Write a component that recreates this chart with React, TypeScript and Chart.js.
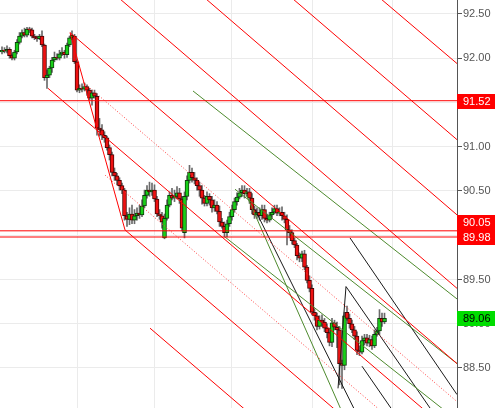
import React, { useEffect, useRef } from 'react';
import { Chart, registerables } from 'chart.js';

Chart.register(...registerables);

// Candles (index 0..153)
const OPEN = [
  92.07, 92.09, 92.08, 92.10, 92.03, 92.00, 92.07, 92.18, 92.25, 92.29,
  92.26, 92.33, 92.32, 92.25, 92.23, 92.22, 92.25, 92.15, 91.78, 91.81,
  91.89, 91.98, 92.01, 92.00, 92.05, 92.07, 92.04, 92.15, 92.23, 92.25,
  91.96, 91.64, 91.66, 91.65, 91.68, 91.64, 91.55, 91.61, 91.57, 91.21,
  91.19, 91.13, 91.10, 90.99, 90.91, 90.71, 90.67, 90.62, 90.56, 90.51,
  90.22, 90.18, 90.24, 90.17, 90.22, 90.25, 90.23, 90.33, 90.45, 90.51,
  90.49, 90.51, 90.41, 90.24, 90.22, 89.97, 90.19, 90.34, 90.45, 90.42,
  90.44, 90.48, 90.41, 90.03, 90.44, 90.62, 90.71, 90.65, 90.62, 90.56,
  90.51, 90.42, 90.36, 90.44, 90.40, 90.31, 90.34, 90.27, 90.15, 90.10,
  90.03, 90.13, 90.21, 90.29, 90.38, 90.43, 90.48, 90.51, 90.47, 90.49,
  90.42, 90.29, 90.23, 90.26, 90.22, 90.29, 90.19, 90.17, 90.23, 90.26,
  90.30, 90.25, 90.26, 90.22, 90.18, 90.06, 90.03, 89.94, 89.89, 89.77,
  89.74, 89.79, 89.64, 89.49, 89.40, 89.13, 89.09, 88.97, 89.04, 89.02,
  88.95, 88.90, 88.79, 89.01, 88.96, 88.93, 88.55, 88.53, 89.13, 89.06,
  89.00, 88.93, 88.86, 88.70, 88.68, 88.81, 88.84, 88.78, 88.82, 88.75,
  88.88, 88.92, 89.06, 89.02,
];
const HIGH = [
  92.13, 92.12, 92.14, 92.12, 92.05, 92.09, 92.21, 92.29, 92.32, 92.34,
  92.35, 92.35, 92.34, 92.27, 92.25, 92.27, 92.31, 92.16, 91.87, 91.91,
  92.01, 92.07, 92.05, 92.09, 92.12, 92.09, 92.17, 92.25, 92.31, 92.27,
  91.98, 91.70, 91.71, 91.72, 91.70, 91.66, 91.64, 91.64, 91.60, 91.32,
  91.25, 91.17, 91.12, 91.02, 90.94, 90.76, 90.70, 90.65, 90.59, 90.53,
  90.26, 90.31, 90.34, 90.29, 90.31, 90.34, 90.40, 90.51, 90.56, 90.60,
  90.59, 90.57, 90.44, 90.29, 90.26, 90.24, 90.40, 90.49, 90.53, 90.51,
  90.55, 90.53, 90.44, 90.49, 90.67, 90.79, 90.76, 90.71, 90.65, 90.60,
  90.56, 90.45, 90.49, 90.47, 90.44, 90.40, 90.38, 90.33, 90.19, 90.15,
  90.17, 90.26, 90.34, 90.42, 90.48, 90.53, 90.56, 90.56, 90.53, 90.53,
  90.47, 90.33, 90.31, 90.31, 90.34, 90.34, 90.24, 90.26, 90.31, 90.34,
  90.34, 90.31, 90.32, 90.26, 90.23, 90.11, 90.06, 89.97, 89.91, 89.80,
  89.82, 89.83, 89.66, 89.54, 89.44, 89.17, 89.12, 89.09, 89.10, 89.06,
  89.00, 88.95, 89.06, 89.04, 89.02, 88.97, 88.59, 89.13, 89.20, 89.11,
  89.04, 88.97, 88.91, 88.75, 88.86, 88.88, 88.88, 88.87, 88.86, 88.93,
  88.96, 89.16, 89.12, 89.12,
];
const LOW = [
  92.05, 92.06, 92.06, 92.00, 91.98, 91.98, 92.05, 92.16, 92.23, 92.24,
  92.24, 92.29, 92.23, 92.21, 92.19, 92.21, 92.13, 91.75, 91.66, 91.78,
  91.84, 91.96, 91.98, 91.98, 92.03, 92.00, 92.01, 92.13, 92.21, 91.94,
  91.62, 91.61, 91.62, 91.63, 91.58, 91.53, 91.47, 91.55, 91.13, 91.12,
  91.08, 91.05, 90.96, 90.85, 90.67, 90.62, 90.57, 90.51, 90.47, 90.17,
  90.10, 90.12, 90.13, 90.13, 90.17, 90.19, 90.21, 90.31, 90.42, 90.44,
  90.45, 90.38, 90.21, 90.18, 90.08, 89.96, 90.17, 90.32, 90.40, 90.38,
  90.41, 90.36, 90.05, 89.97, 90.40, 90.59, 90.60, 90.58, 90.51, 90.44,
  90.35, 90.33, 90.33, 90.34, 90.26, 90.27, 90.24, 90.10, 90.08, 89.98,
  89.98, 90.10, 90.17, 90.26, 90.34, 90.41, 90.44, 90.42, 90.44, 90.36,
  90.24, 90.19, 90.19, 90.17, 90.18, 90.15, 90.14, 90.15, 90.19, 90.24,
  90.22, 90.22, 90.17, 90.14, 89.89, 89.97, 89.90, 89.86, 89.72, 89.70,
  89.70, 89.61, 89.46, 89.36, 89.10, 89.04, 88.93, 88.94, 88.97, 88.91,
  88.84, 88.75, 88.74, 88.93, 88.73, 88.31, 88.27, 88.48, 89.04, 88.95,
  88.90, 88.82, 88.65, 88.64, 88.66, 88.76, 88.75, 88.74, 88.71, 88.73,
  88.86, 88.88, 88.97, 89.00,
];
const CLOSE = [
  92.09, 92.08, 92.10, 92.03, 92.00, 92.07, 92.18, 92.25, 92.29, 92.26,
  92.33, 92.32, 92.25, 92.23, 92.22, 92.25, 92.15, 91.78, 91.81, 91.89,
  91.98, 92.01, 92.00, 92.05, 92.07, 92.04, 92.15, 92.23, 92.26, 91.96,
  91.64, 91.66, 91.65, 91.68, 91.64, 91.55, 91.61, 91.57, 91.21, 91.19,
  91.13, 91.10, 90.99, 90.91, 90.71, 90.67, 90.62, 90.56, 90.51, 90.22,
  90.18, 90.24, 90.17, 90.22, 90.25, 90.23, 90.33, 90.45, 90.51, 90.49,
  90.51, 90.41, 90.24, 90.22, 90.15, 90.19, 90.34, 90.45, 90.42, 90.44,
  90.48, 90.41, 90.08, 90.44, 90.62, 90.71, 90.65, 90.62, 90.56, 90.51,
  90.42, 90.36, 90.44, 90.40, 90.31, 90.34, 90.27, 90.15, 90.10, 90.03,
  90.13, 90.21, 90.29, 90.38, 90.43, 90.48, 90.51, 90.47, 90.49, 90.42,
  90.29, 90.23, 90.26, 90.22, 90.29, 90.19, 90.17, 90.23, 90.26, 90.30,
  90.25, 90.26, 90.22, 90.18, 90.06, 90.03, 89.94, 89.89, 89.77, 89.74,
  89.79, 89.64, 89.49, 89.40, 89.13, 89.09, 88.97, 89.04, 89.02, 88.95,
  88.90, 88.79, 89.01, 88.96, 88.93, 88.55, 88.53, 89.09, 89.06, 89.00,
  88.93, 88.86, 88.70, 88.68, 88.81, 88.84, 88.78, 88.82, 88.75, 88.88,
  88.92, 89.06, 89.02, 89.06,
];

const Y_TICKS = [88.5, 89.0, 89.5, 90.0, 90.5, 91.0, 91.5, 92.0, 92.5];
const X_GRID = [14, 46, 76, 108, 140];
const X_MIN = -0.8;
const X_MAX = 182;
const Y_MIN = 88.048;
const Y_MAX = 92.658;

const H_LEVELS = [91.52, 90.05, 89.98];
const LAST_PRICE = 89.06;

// Drawing-tool segments: [x1, price1, x2, price2] in candle-index / price units
const RED_LINES = [
  [47.6, 92.66, 182, 89.40],
  [82.0, 92.66, 182, 90.23],
  [116.8, 92.66, 182, 91.08],
  [152.0, 92.66, 182, 91.94],
  [27.2, 92.29, 182, 88.55],
  [18.4, 91.66, 182, 87.71],
  [49.2, 90.06, 182, 86.85],
  [59.2, 88.95, 182, 85.98],
  [27.2, 92.29, 49.2, 90.06],
];
const RED_DOTTED = [
  [32.4, 91.73, 182, 88.12],
  [41.2, 90.68, 182, 87.28],
];
const GREEN_LINES = [
  [76.4, 91.63, 182, 89.28],
  [93.2, 90.52, 182, 88.55],
  [89.2, 89.98, 182, 87.91],
  [97.2, 90.49, 139.2, 87.80],
];
const BLACK_LINES = [
  [139.2, 89.97, 182, 88.2],
  [101.2, 90.29, 142.4, 87.95],
  [137.6, 89.42, 173.6, 87.95],
  [144.0, 88.52, 156.0, 88.03],
  [134.4, 88.27, 137.6, 89.42],
];

const FONT = '"Liberation Sans", Arial, sans-serif';

const seg = (l: number[], color: string, dash: number[] = []) => ({
  type: 'line' as const,
  data: [
    { x: l[0], y: l[1] },
    { x: l[2], y: l[3] },
  ],
  borderColor: color,
  borderWidth: 1,
  borderDash: dash,
  pointRadius: 0,
  fill: false,
  tension: 0,
  order: 0,
});

const labelPlugin = {
  id: 'priceLabels',
  afterDraw(chart: any) {
    const { ctx, scales, chartArea } = chart;
    const y = scales.y;
    const items = [
      { v: H_LEVELS[0], bg: '#ff0000', fg: '#ffffff' },
      { v: H_LEVELS[1], bg: '#ff0000', fg: '#ffffff' },
      { v: H_LEVELS[2], bg: '#ff0000', fg: '#ffffff' },
      { v: LAST_PRICE, bg: '#00dd00', fg: '#000000' },
    ].map((it) => ({ ...it, cy: Math.round(y.getPixelForValue(it.v)) }));
    items.sort((a, b) => b.cy - a.cy);
    const h = 15;
    let prevTop = Infinity;
    ctx.save();
    ctx.font = '11px ' + FONT;
    ctx.textBaseline = 'middle';
    ctx.textAlign = 'left';
    for (const it of items) {
      let top = it.cy - 7;
      if (top + h > prevTop) top = prevTop - h;
      prevTop = top;
      ctx.fillStyle = it.bg;
      ctx.fillRect(chartArea.right, top, 38, h);
      ctx.fillStyle = it.fg;
      ctx.fillText(it.v.toFixed(2), chartArea.right + 6, top + h / 2 + 0.5);
    }
    ctx.restore();
  },
};

export default function App() {
  const ref = useRef<HTMLCanvasElement | null>(null);
  useEffect(() => {
    if (!ref.current) return;
    const up = CLOSE.map((c, i) => c >= OPEN[i]);
    const datasets: any[] = [
      ...H_LEVELS.map((v) => seg([X_MIN - 1, v, X_MAX + 1, v], '#ff0000')),
      ...RED_LINES.map((l) => seg(l, '#ff0000')),
      ...RED_DOTTED.map((l) => seg(l, '#ff4040', [1, 2])),
      ...GREEN_LINES.map((l) => seg(l, '#4e8a2e')),
      ...BLACK_LINES.map((l) => seg(l, '#1a1a1a')),
      {
        type: 'bar',
        data: CLOSE.map((c, i) => ({ x: i, y: [OPEN[i], c] })),
        backgroundColor: up.map((u) => (u ? '#18d018' : '#ee1111')),
        borderColor: up.map((u) => (u ? '#0b3d0b' : '#4a0505')),
        borderWidth: 1,
        borderSkipped: false,
        barThickness: 4,
        minBarLength: 1,
        grouped: false,
        order: 1,
      },
      {
        type: 'bar',
        data: CLOSE.map((c, i) => ({ x: i, y: [LOW[i], HIGH[i]] })),
        backgroundColor: '#6a6a6a',
        borderWidth: 0,
        barThickness: 1,
        grouped: false,
        order: 2,
      },
    ];
    const chart = new Chart(ref.current, {
      type: 'bar',
      data: { datasets },
      options: {
        animation: false,
        responsive: false,
        maintainAspectRatio: false,
        events: [],
        layout: { padding: 0 },
        plugins: { legend: { display: false }, tooltip: { enabled: false } },
        scales: {
          x: {
            type: 'linear',
            min: X_MIN,
            max: X_MAX,
            offset: false,
            grid: { color: '#ebebeb', drawTicks: false },
            border: { display: false },
            ticks: { display: false },
            afterBuildTicks: (s: any) => {
              s.ticks = X_GRID.map((v) => ({ value: v }));
            },
            afterFit: (s: any) => {
              s.height = 0;
              s.paddingLeft = 0;
              s.paddingRight = 0;
            },
          },
          y: {
            type: 'linear',
            position: 'right',
            min: Y_MIN,
            max: Y_MAX,
            grid: { color: '#ebebeb', tickColor: '#555555', tickLength: 5 },
            border: { display: true, color: '#555555' },
            ticks: {
              color: '#555555',
              padding: 1,
              font: { size: 11, family: FONT },
              callback: (v: any) => Number(v).toFixed(2),
            },
            afterBuildTicks: (s: any) => {
              s.ticks = Y_TICKS.map((v) => ({ value: v }));
            },
            afterFit: (s: any) => {
              s.width = 46;
              s.paddingTop = 0;
              s.paddingBottom = 0;
            },
          },
        },
      } as any,
      plugins: [labelPlugin],
    });
    return () => chart.destroy();
  }, []);
  return (
    <div style={{ position: 'absolute', left: 0, top: 0, width: 503, height: 408, background: '#fff' }}>
      <canvas ref={ref} width={503} height={408} />
    </div>
  );
}
